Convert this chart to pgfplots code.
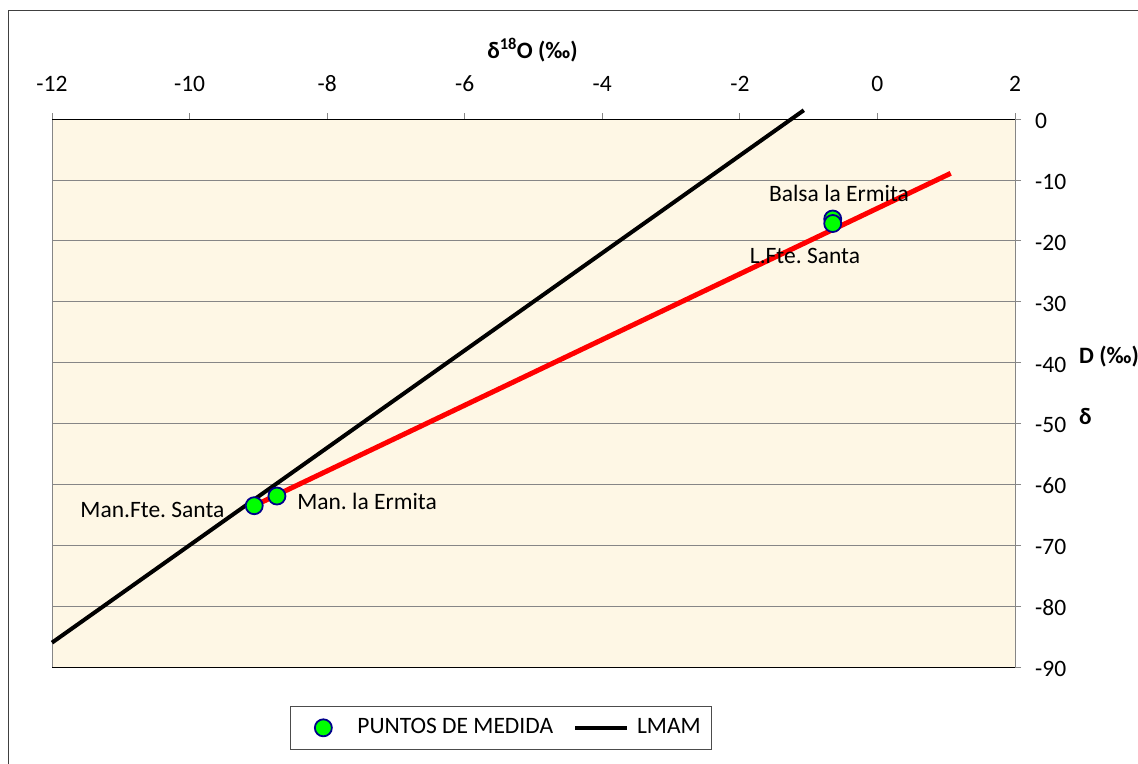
\documentclass[border=0pt]{standalone}
\usepackage{pgfplots}
\pgfplotsset{compat=1.18}
\usepackage{fontspec}
\setmainfont{Carlito}

\definecolor{paper}{RGB}{254,247,229}
\definecolor{ptgreen}{RGB}{0,255,0}
\definecolor{ptblue}{RGB}{0,0,140}
\definecolor{gridgray}{RGB}{134,134,134}

% legend symbols, both 52bp wide
\pgfplotsset{
  markimg/.style={legend image code/.code={%
    \path[draw=none] (0bp,0bp) -- (52bp,0bp);
    \draw[##1, /tikz/only marks] plot coordinates {(26bp,0bp)};}},
  lineimg/.style={legend image code/.code={%
    \draw[##1] (0bp,0bp) -- (52bp,0bp);}},
}

\begin{document}
\frenchspacing
\fontsize{23.5bp}{28bp}\selectfont
\begin{tikzpicture}
\useasboundingbox (0bp,0bp) rectangle (1138bp,-764bp);
\clip (0bp,0bp) rectangle (1138bp,-764bp);
\fill[white] (0bp,0bp) rectangle (1138bp,-764bp);
% outer chart frame
\draw[line width=1.6bp, black!75] (8.5bp,-10.5bp) rectangle (1180bp,-800bp);

\begin{axis}[
  at={(52bp,-667bp)}, anchor=south west,
  scale only axis, width=963bp, height=548bp,
  xmin=-12, xmax=2, ymin=-90, ymax=0,
  xtick={-12,-10,...,2}, ytick={-90,-80,...,0},
  xticklabel pos=upper, yticklabel pos=upper,
  xtick pos=upper, ytick pos=upper,
  tick align=outside, major tick length=6bp,
  tick style={gridgray, line width=0.8bp},
  axis line style={gridgray, line width=0.8bp},
  ymajorgrids, grid style={gridgray, line width=0.8bp},
  axis background/.style={fill=paper},
  clip=false,
  /pgf/number format/assume math mode=true,
  ticklabel style={font=\fontsize{23.5bp}{28bp}\selectfont, inner sep=0pt},
  xticklabel style={anchor=base, yshift=22bp},
  yticklabel style={anchor=base west, xshift=14bp, yshift=-9.5bp},
  legend columns=2,
  legend cell align=left,
  legend style={at={(0.2471,-0.0712)}, anchor=north west,
    draw=gray!60!black, line width=0.8bp, fill=white,
    inner xsep=7bp, inner ysep=12bp,
    font=\fontsize{23.5bp}{28bp}\selectfont,
    nodes={inner sep=0pt},
    /tikz/every odd column/.append style={column sep=8bp},
    /tikz/every even column/.append style={column sep=20bp}},
]
% legend entries
\addlegendimage{only marks, mark=*, mark size=8.5bp,
  mark options={fill=ptgreen, draw=ptblue, line width=1.8bp}, markimg}
\addlegendentry{PUNTOS DE MEDIDA}
\addlegendimage{black, line width=4bp, lineimg}
\addlegendentry{LMAM\hspace*{4bp}}

% top and bottom borders of the plot area
\draw[black, line width=1bp] (rel axis cs:0,1) -- (rel axis cs:1,1);
\draw[black, line width=1bp] (rel axis cs:0,0) -- (rel axis cs:1,0);

% local meteoric water line (LMAM)
\addplot[black, line width=4bp, forget plot] coordinates {(-12,-86) (-1.07,1.44)};

% measured samples
\addplot[only marks, mark=*, mark size=8.5bp,
  mark options={fill=ptgreen, draw=ptblue, line width=1.8bp}, forget plot]
  coordinates {
    (-9.06,-63.51)   % Man.Fte. Santa
    (-8.73,-61.92)   % Man. la Ermita
    (-0.65,-16.42)   % Balsa la Ermita
    (-0.65,-17.16)   % L.Fte. Santa
  };

% regression line through the samples
\addplot[red, line width=5bp, forget plot] coordinates {(-9.06,-63.51) (1.065,-8.92)};

% sample labels
\node[anchor=base, inner sep=0pt] at (axis cs:-0.559,-13.47) {Balsa la Ermita};
\node[anchor=base, inner sep=0pt] at (axis cs:-1.053,-23.65) {L.Fte. Santa};
\node[anchor=base, inner sep=0pt] at (axis cs:-10.539,-65.37) {Man.Fte. Santa};
\node[anchor=base, inner sep=0pt] at (axis cs:-7.42,-64.05) {Man. la Ermita};
\end{axis}

% axis titles
\node[anchor=base, inner sep=0pt, font=\bfseries\fontsize{23.5bp}{28bp}\selectfont]
  at (532.5bp,-58bp) {δ\textsuperscript{18}O (‰)};
\node[anchor=base west, inner sep=0pt, font=\bfseries\fontsize{23.5bp}{28bp}\selectfont]
  at (1079bp,-363bp) {D (‰)};
\node[anchor=base west, inner sep=0pt, font=\bfseries\fontsize{23.5bp}{28bp}\selectfont]
  at (1079bp,-424bp) {δ};
\end{tikzpicture}
\end{document}
